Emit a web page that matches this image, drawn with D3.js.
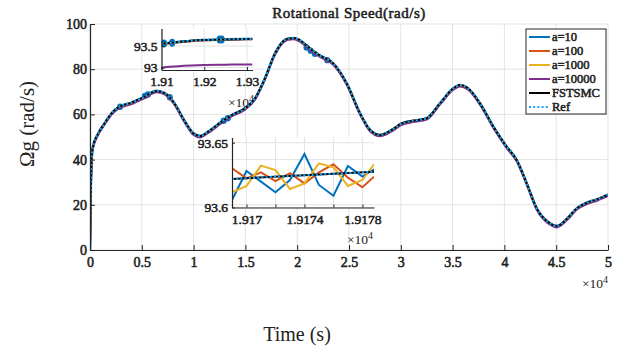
<!DOCTYPE html>
<html><head><meta charset="utf-8">
<script src="https://cdn.jsdelivr.net/npm/d3@7"></script>
<style>
body{margin:0;background:#fff}
svg{display:block}
text{font-family:"Liberation Serif","Times New Roman",serif;fill:#222}
text.b{font-weight:normal;stroke:#222;stroke-width:0.55px}
</style>
</head><body>
<svg id="c" width="625" height="352"></svg>
<script>
// ---------- DATA ----------
const seriesNames = ["a=10","a=100","a=1000","a=10000","FSTSMC","Ref"];
const xTicks = [0,0.5,1,1.5,2,2.5,3,3.5,4,4.5,5];
const xTickLabels = ["0","0.5","1","1.5","2","2.5","3","3.5","4","4.5","5"];
const yTicks = [0,20,40,60,80,100];

// main curve (time in 1e4 s)
const mainT = [0,0.006,0.014,0.025,0.08,0.14,0.209,0.273,0.402,0.514,0.644,0.724,0.804,0.917,0.997,1.062,1.142,1.271,1.368,1.496,1.593,1.689,1.786,1.882,1.92,1.96,2.01,2.14,2.22,2.348,2.478,2.606,2.703,2.799,2.912,3.009,3.12,3.25,3.378,3.507,3.57,3.65,3.764,3.893,4.022,4.119,4.215,4.312,4.44,4.505,4.6,4.7,4.8,4.9,5.0];
const mainRef = [0,22,38,45,51.6,56,60.5,63.1,65.2,67.5,70.4,69.3,65.6,56.8,51.6,50.4,52.4,56.8,59.7,62.7,67.1,76,87,93.0,93.6,93.8,93.2,88.5,86,82.6,73.7,60.5,53.1,50.9,53.1,56,57.2,58.3,64.9,71.5,73,71.5,64.9,54.6,45.7,39.8,29.5,18.4,11.8,10.6,13.6,18.5,21,22.5,24.5];
const mainPurple = [0,21.4,37.4,44.4,51,55.4,59.9,62.5,64.6,66.9,69.8,68.7,65,56.2,51,49.8,51.8,56.2,59.1,62.1,66.5,75.4,86.4,92.4,93.0,93.2,92.6,87.9,85.4,82,73.1,59.9,52.5,50.3,52.5,55.4,56.6,57.7,64.3,70.9,72.4,70.9,64.3,54,45.1,39.2,28.9,17.8,11.2,10.0,13.0,17.9,20.4,21.9,23.9];
// chattering spots of a=10 on main plot
const blobT = [0.29,0.53,0.56,0.77,1.29,1.33,2.09,2.13,2.17,2.29];
const blobV = [63.4,68.2,68.8,67.6,57.2,58.3,89.6,88.2,86.8,84.0];

// inset 1
const in1XTicks = [1.91,1.92,1.93];
const in1YTicks = [93,93.5];
const in1T = [1.91,1.912,1.914,1.917,1.92,1.925,1.93,1.9313];
const in1Ref = [93.55,93.575,93.595,93.622,93.64,93.655,93.665,93.667];
const in1A100 = [93.54,93.565,93.585,93.612,93.63,93.645,93.655,93.657];
const in1Purple = [92.995,93.015,93.03,93.045,93.055,93.065,93.07,93.071];
const in1BlobT = [1.9106,1.9125,1.9236,1.9241];
const in1BlobV = [93.557,93.578,93.652,93.654];

// inset 2
const in2XTicks = [1.917,1.9172,1.9174,1.9176,1.9178];
const in2XLabels = ["1.917","","1.9174","","1.9178"];
const in2YTicks = [93.6,93.65];
const in2T = [1.9169,1.917,1.9171,1.9172,1.9173,1.9174,1.9175,1.9176,1.9177,1.9178,1.91788];
const in2A10 = [93.6058,93.6282,93.6200,93.6117,93.6212,93.6413,93.6174,93.6091,93.6320,93.6238,93.6295];
const in2A100 = [93.6302,93.6225,93.6271,93.6204,93.6264,93.6186,93.6271,93.6333,93.6230,93.6156,93.6238];
const in2A1000 = [93.6117,93.6166,93.6323,93.6289,93.6143,93.6186,93.6341,93.6310,93.6166,93.6212,93.6333];
const in2RefT = [1.9169,1.91788];
const in2Ref = [93.6220,93.6276];

// ---------- STYLE ----------
const colors = {"a=10":"#0072BD","a=100":"#D95319","a=1000":"#EDB120","a=10000":"#7E2F8E","FSTSMC":"#000000","Ref":"#12A6FF"};
const gridColor = "#e3e3e3";
const axisColor = "#262626";

const svg = d3.select("#c");
const defs = svg.append("defs");
function clip(id,x0,y0,x1,y1){
  defs.append("clipPath").attr("id",id).append("rect").attr("x",x0).attr("y",y0).attr("width",x1-x0).attr("height",y1-y0);
}

// ---------- MAIN ----------
const x = d3.scaleLinear([0,5],[90,608]);
const y = d3.scaleLinear([0,100],[250,24]);
clip("cm",90,22,608,251);

const gGrid = svg.append("g");
gGrid.selectAll("line.v").data(xTicks).join("line")
  .attr("x1",d=>x(d)).attr("x2",d=>x(d)).attr("y1",y(0)).attr("y2",y(100))
  .attr("stroke",gridColor);
gGrid.selectAll("line.h").data(yTicks).join("line")
  .attr("x1",x(0)).attr("x2",x(5)).attr("y1",d=>y(d)).attr("y2",d=>y(d))
  .attr("stroke",gridColor);

function styleAxis(g,size){
  g.attr("font-family",null);
  g.select(".domain").attr("stroke",axisColor).attr("stroke-width",1.2);
  g.selectAll(".tick line").attr("stroke",axisColor);
  g.selectAll("text").attr("class","b").attr("font-size",size).attr("fill","#222");
}

const mainData = mainT.map((t,i)=>({t,v:mainRef[i]}));
const purpleData = mainT.map((t,i)=>({t,v:mainPurple[i]}));
const line = d3.line().x(d=>x(d.t)).y(d=>y(d.v)).curve(d3.curveMonotoneX);

// inset-1 exponent label (under main curves)
const in1Exp = svg.append("text").attr("x",254).attr("y",107).attr("text-anchor","end").attr("font-size",13.5);
in1Exp.append("tspan").text("×10");
in1Exp.append("tspan").attr("dy",-5).attr("font-size",10).text("4");

const gM = svg.append("g").attr("clip-path","url(#cm)");
gM.append("path").datum(mainData).attr("d",line).attr("fill","none").attr("stroke",colors["a=10"]).attr("stroke-width",2.6);
gM.selectAll("ellipse").data(blobT.map((t,i)=>({t,v:blobV[i]}))).join("ellipse")
  .attr("cx",d=>x(d.t)).attr("cy",d=>y(d.v)).attr("rx",3).attr("ry",3.2).attr("fill",colors["a=10"]);
gM.append("path").datum(purpleData).attr("d",line).attr("fill","none").attr("stroke",colors["a=10000"]).attr("stroke-width",2);
gM.append("path").datum(mainData).attr("d",line).attr("fill","none").attr("stroke",colors["a=100"]).attr("stroke-width",1.8);
gM.append("path").datum(mainData).attr("d",line).attr("fill","none").attr("stroke",colors["a=1000"]).attr("stroke-width",1.8);
gM.append("path").datum(mainData).attr("d",line).attr("fill","none").attr("stroke",colors["FSTSMC"]).attr("stroke-width",2);
gM.append("path").datum(mainData).attr("d",line).attr("fill","none").attr("stroke",colors["Ref"]).attr("stroke-width",2).attr("stroke-dasharray","2,2.2");

const gx = svg.append("g").attr("transform",`translate(0,${y(0)})`)
  .call(d3.axisBottom(x).tickValues(xTicks).tickFormat((d,i)=>xTickLabels[i]).tickSizeInner(-5).tickSizeOuter(0).tickPadding(7));
styleAxis(gx,14);
const gy = svg.append("g").attr("transform",`translate(${x(0)},0)`)
  .call(d3.axisLeft(y).tickValues(yTicks).tickSizeInner(-5).tickSizeOuter(0).tickPadding(3));
styleAxis(gy,14);

// main exponent
const mExp = svg.append("text").attr("x",608).attr("y",288).attr("text-anchor","end").attr("font-size",13.5);
mExp.append("tspan").text("×10");
mExp.append("tspan").attr("dy",-5).attr("font-size",10).text("4");

// title & labels
svg.append("text").attr("class","b").attr("x",349).attr("y",18).attr("text-anchor","middle").attr("font-size",15).attr("letter-spacing",0.5).text("Rotational Speed(rad/s)");
svg.append("text").attr("transform","translate(34,124) rotate(-90)").attr("text-anchor","middle").attr("font-size",21).text("Ωg (rad/s)");
svg.append("text").attr("x",297).attr("y",341).attr("text-anchor","middle").attr("font-size",20).text("Time (s)");

// ---------- INSET 1 ----------
const x1 = d3.scaleLinear([1.91,1.9313],[161.5,252.5]);
const y1 = d3.scaleLinear([92.94,93.91],[70,28.5]);
clip("c1",161.5,28.5,252.5,70);
const g1 = svg.append("g");
g1.append("rect").attr("x",161.5).attr("y",28.5).attr("width",91).attr("height",41.5).attr("fill","#fff");
g1.selectAll("line.v").data(in1XTicks).join("line").attr("x1",d=>x1(d)).attr("x2",d=>x1(d)).attr("y1",28.5).attr("y2",70).attr("stroke",gridColor);
g1.selectAll("line.h").data(in1YTicks).join("line").attr("x1",161.5).attr("x2",252.5).attr("y1",d=>y1(d)).attr("y2",d=>y1(d)).attr("stroke",gridColor);
const l1 = d3.line().x(d=>x1(d.t)).y(d=>y1(d.v)).curve(d3.curveMonotoneX);
const in1Data = in1T.map((t,i)=>({t,v:in1Ref[i]}));
const in1O = in1T.map((t,i)=>({t,v:in1A100[i]}));
const in1P = in1T.map((t,i)=>({t,v:in1Purple[i]}));
const g1c = g1.append("g").attr("clip-path","url(#c1)");
g1c.append("path").datum(in1Data).attr("d",l1).attr("fill","none").attr("stroke",colors["a=10"]).attr("stroke-width",2.6);
g1c.selectAll("ellipse").data(in1BlobT.map((t,i)=>({t,v:in1BlobV[i]}))).join("ellipse")
  .attr("cx",d=>x1(d.t)).attr("cy",d=>y1(d.v)).attr("rx",3).attr("ry",4).attr("fill",colors["a=10"]);
g1c.append("path").datum(in1P).attr("d",l1).attr("fill","none").attr("stroke",colors["a=10000"]).attr("stroke-width",2);
g1c.append("path").datum(in1O).attr("d",l1).attr("fill","none").attr("stroke",colors["a=100"]).attr("stroke-width",1.8);
g1c.append("path").datum(in1Data).attr("d",l1).attr("fill","none").attr("stroke",colors["a=1000"]).attr("stroke-width",1.8);
g1c.append("path").datum(in1Data).attr("d",l1).attr("fill","none").attr("stroke",colors["FSTSMC"]).attr("stroke-width",2);
g1c.append("path").datum(in1Data).attr("d",l1).attr("fill","none").attr("stroke",colors["Ref"]).attr("stroke-width",2).attr("stroke-dasharray","2,2.2");
const g1x = g1.append("g").attr("transform","translate(0,70)")
  .call(d3.axisBottom(x1).tickValues(in1XTicks).tickFormat(d3.format(".2f")).tickSizeInner(-3).tickSizeOuter(0).tickPadding(6));
styleAxis(g1x,13.5);
const g1y = g1.append("g").attr("transform","translate(161.5,0)")
  .call(d3.axisLeft(y1).tickValues(in1YTicks).tickFormat(d=>d===93?"93":"93.5").tickSizeInner(-3).tickSizeOuter(0).tickPadding(4));
styleAxis(g1y,13.5);

// ---------- INSET 2 ----------
const x2 = d3.scaleLinear([1.9169,1.91788],[232,374]);
const y2 = d3.scaleLinear([93.6,93.654],[207.5,137.5]);
clip("c2",232,137.5,374,207.5);
const g2 = svg.append("g");
g2.append("rect").attr("x",232).attr("y",137.5).attr("width",142).attr("height",70).attr("fill","#fff");
g2.selectAll("line.v").data(in2XTicks).join("line").attr("x1",d=>x2(d)).attr("x2",d=>x2(d)).attr("y1",137.5).attr("y2",207.5).attr("stroke",gridColor);
g2.selectAll("line.h").data(in2YTicks).join("line").attr("x1",232).attr("x2",374).attr("y1",d=>y2(d)).attr("y2",d=>y2(d)).attr("stroke",gridColor);
// main grid line showing through
g2.selectAll("line.m").data(yTicks.filter(d=>y(d)>137.5&&y(d)<207.5)).join("line").attr("x1",232).attr("x2",374).attr("y1",d=>y(d)).attr("y2",d=>y(d)).attr("stroke",gridColor);
const l2 = d3.line().x(d=>x2(d.t)).y(d=>y2(d.v));
const g2c = g2.append("g").attr("clip-path","url(#c2)");
[["a=10",in2A10],["a=100",in2A100],["a=1000",in2A1000]].forEach(([n,arr])=>{
  g2c.append("path").datum(in2T.map((t,i)=>({t,v:arr[i]}))).attr("d",l2).attr("fill","none").attr("stroke",colors[n]).attr("stroke-width",2);
});
const in2R = in2RefT.map((t,i)=>({t,v:in2Ref[i]}));
g2c.append("path").datum(in2R).attr("d",l2).attr("fill","none").attr("stroke",colors["FSTSMC"]).attr("stroke-width",2);
g2c.append("path").datum(in2R).attr("d",l2).attr("fill","none").attr("stroke",colors["Ref"]).attr("stroke-width",2).attr("stroke-dasharray","2,2.2");
const g2x = g2.append("g").attr("transform","translate(0,207.5)")
  .call(d3.axisBottom(x2).tickValues(in2XTicks).tickFormat((d,i)=>in2XLabels[i]).tickSizeInner(-3).tickSizeOuter(0).tickPadding(7));
styleAxis(g2x,13.5);
const g2y = g2.append("g").attr("transform","translate(232,0)")
  .call(d3.axisLeft(y2).tickValues(in2YTicks).tickFormat(d=>d===93.6?"93.6":"93.65").tickSizeInner(-3).tickSizeOuter(0).tickPadding(4));
styleAxis(g2y,13.5);
const e2 = svg.append("text").attr("x",373).attr("y",244).attr("text-anchor","end").attr("font-size",13.5);
e2.append("tspan").text("×10");
e2.append("tspan").attr("dy",-5).attr("font-size",10).text("4");

// ---------- LEGEND ----------
const lg = svg.append("g");
lg.append("rect").attr("x",526).attr("y",29).attr("width",80).attr("height",85).attr("fill","#fff").attr("stroke",axisColor).attr("stroke-width",1);
const ly = d3.scalePoint().domain(seriesNames).range([37,107]);
seriesNames.forEach(n=>{
  lg.append("line").attr("x1",529).attr("x2",550).attr("y1",ly(n)).attr("y2",ly(n))
    .attr("stroke",colors[n]).attr("stroke-width",2).attr("stroke-dasharray",n==="Ref"?"2,2.2":null);
  lg.append("text").attr("class","b").attr("x",552).attr("y",ly(n)).attr("dy","0.35em").attr("font-size",12.5).text(n);
});
</script>
</body></html>
